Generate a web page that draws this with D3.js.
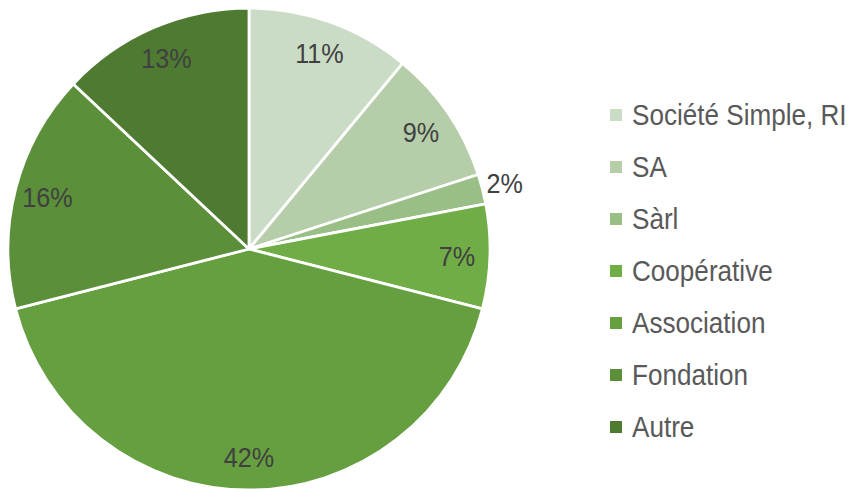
<!DOCTYPE html>
<html>
<head>
<meta charset="utf-8">
<script src="https://cdn.jsdelivr.net/npm/d3@7"></script>
<style>
  body { margin: 0; background: #fff; }
  svg { display: block; }
</style>
</head>
<body>
<div id="chart"></div>
<script>
const categories = ["Société Simple, RI", "SA", "Sàrl", "Coopérative", "Association", "Fondation", "Autre"]
const shares = [11, 9, 2, 7, 42, 16, 13]
const colours = ["#cadcc5", "#b5cea9", "#99bf87", "#70ad47", "#669f3f", "#5b8f39", "#4e7a31"]

const width = 849,
      height = 492

const cx = 249, cy = 249, radius = 241
const label_radius = 208, outside_radius = 264
const squeeze = 0.9

const svg = d3.select("#chart")
    .append("svg")
    .attr("width", width)
    .attr("height", height)

const data = categories.map((name, i) => ({ name, value: shares[i], colour: colours[i] }))

const pie = d3.pie()
    .sort(null)
    .value(d => d.value)

const arc = d3.arc()
    .innerRadius(0)
    .outerRadius(radius)

const arcs = pie(data)

const g = svg.append("g")
    .attr("transform", `translate(${cx}, ${cy})`)

g.selectAll("path")
    .data(arcs)
    .enter()
    .append("path")
    .attr("d", arc)
    .attr("fill", d => d.data.colour)
    .attr("stroke", "#fff")
    .attr("stroke-width", 2.8)
    .attr("stroke-linejoin", "round")

// labels sit near the rim; tiny slices go outside
g.selectAll("text.value")
    .data(arcs)
    .enter()
    .append("text")
    .attr("class", "value")
    .attr("transform", d => {
        const a = (d.startAngle + d.endAngle) / 2
        const r = d.data.value < 5 ? outside_radius : label_radius
        return `translate(${Math.sin(a) * r}, ${-Math.cos(a) * r}) scale(${squeeze}, 1)`
    })
    .attr("text-anchor", "middle")
    .attr("dy", "0.36em")
    .attr("font-family", "Liberation Sans, Arial, sans-serif")
    .attr("font-size", "28px")
    .attr("fill", "#404040")
    .text(d => `${d.data.value}%`)

const legend = svg.append("g")
    .attr("transform", "translate(610, 115)")

const row = legend.selectAll("g")
    .data(data)
    .enter()
    .append("g")
    .attr("transform", (d, i) => `translate(0, ${i * 52})`)

row.append("rect")
    .attr("x", 0)
    .attr("y", -6)
    .attr("width", 12)
    .attr("height", 12)
    .attr("fill", d => d.colour)

row.append("text")
    .attr("transform", `translate(22, 0) scale(${squeeze}, 1)`)
    .attr("dy", "0.36em")
    .attr("font-family", "Liberation Sans, Arial, sans-serif")
    .attr("font-size", "29px")
    .attr("fill", "#595959")
    .text(d => d.name)
</script>
</body>
</html>
